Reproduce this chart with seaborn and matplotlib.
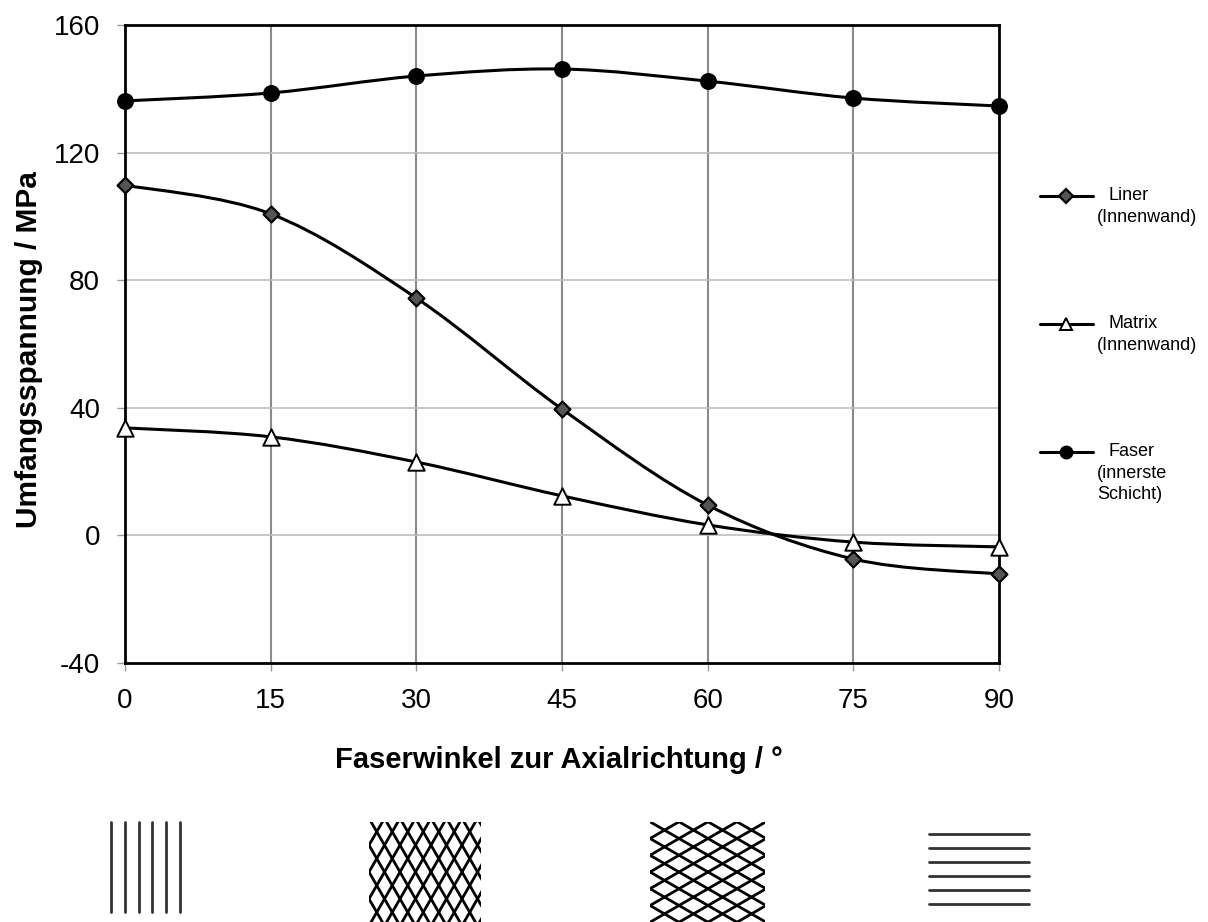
import numpy as np
import pandas as pd
import matplotlib
matplotlib.use("Agg")
import matplotlib.pyplot as plt
from matplotlib.path import Path
from matplotlib.patches import PathPatch, Rectangle
from matplotlib.lines import Line2D
import seaborn as sns

# ---- data ----
angles = [0, 15, 30, 45, 60, 75, 90]
liner = [109.8, 100.8, 74.4, 39.6, 9.5, -7.4, -12.1]
matrix = [33.7, 30.9, 23.0, 12.4, 3.3, -2.1, -3.6]
faser = [136.2, 138.7, 144.0, 146.2, 142.4, 137.1, 134.6]
series_names = ["Liner", "Matrix", "Faser"]
legend_sub = [["(Innenwand)"], ["(Innenwand)"], ["(innerste", "Schicht)"]]
yticks = [-40, 0, 40, 80, 120, 160]
xticks = [0, 15, 30, 45, 60, 75, 90]
xlabel = "Faserwinkel zur Axialrichtung / °"
ylabel = "Umfangsspannung / MPa"
pattern_angles = [0, 30, 60, 90]  # fibre angle sketches

sns.set_theme(style="white")
plt.rcParams['font.family'] = ['Liberation Sans', 'DejaVu Sans']
plt.rcParams['text.color'] = 'black'
plt.rcParams['xtick.labelcolor'] = 'black'
plt.rcParams['ytick.labelcolor'] = 'black'

W, H = 1208, 922
fig = plt.figure(figsize=(W / 100, H / 100), dpi=100)
ax = fig.add_axes([125 / W, 1 - 663 / H, (999 - 125) / W, (663 - 25) / H])

df = pd.DataFrame({"angle": angles * 3,
                   "value": liner + matrix + faser,
                   "series": np.repeat(series_names, len(angles))})

# smooth curves (Excel-like smoothed line via cubic Bezier)
def smooth_path(x, y):
    pts = np.column_stack([x, y]).astype(float)
    n = len(pts)
    verts = [pts[0]]
    codes = [Path.MOVETO]
    for i in range(n - 1):
        p0 = pts[max(i - 1, 0)]
        p1 = pts[i]
        p2 = pts[i + 1]
        p3 = pts[min(i + 2, n - 1)]
        c1 = p1 + (p2 - p0) / 6
        c2 = p2 - (p3 - p1) / 6
        verts += [c1, c2, p2]
        codes += [Path.CURVE4] * 3
    return Path(verts, codes)

styles = {
    "Liner": dict(marker="D", s=65, facecolor="#555555", edgecolor="black", lw=1.6, ms=7),
    "Matrix": dict(marker="^", s=140, facecolor="white", edgecolor="black", lw=1.4, ms=8),
    "Faser": dict(marker="o", s=125, facecolor="black", edgecolor="black", lw=1, ms=9),
}

# grid
for v in [15, 30, 45, 60, 75]:
    ax.axvline(v, color="#8a8a8a", lw=1.5, zorder=1)
for v in [0, 40, 80, 120]:
    ax.axhline(v, color="#bdbdbd", lw=1.2, zorder=1)

for name in series_names:
    sub = df[df.series == name]
    ax.add_patch(PathPatch(smooth_path(sub.angle.values, sub.value.values),
                           facecolor="none", edgecolor="black", lw=2.2, zorder=3,
                           clip_on=False))
    st = styles[name]
    sns.scatterplot(data=sub, x="angle", y="value", ax=ax, marker=st["marker"],
                    s=st["s"], color=st["facecolor"], edgecolor=st["edgecolor"],
                    linewidth=st["lw"], zorder=4, clip_on=False, legend=False)

ax.set_xlim(0, 90)
ax.set_ylim(-40, 160)
ax.set_xticks(xticks)
ax.set_yticks(yticks)
ax.set_xticklabels([str(t) for t in xticks], fontsize=20)
ax.set_yticklabels([str(t) for t in yticks], fontsize=20)
ax.tick_params(axis="both", direction="out", length=6, width=1, color="#9a9a9a",
               labelcolor="black", left=True, bottom=True)
ax.tick_params(axis="y", pad=12)
ax.tick_params(axis="x", pad=12)
ax.set_xlabel("")
ax.set_ylabel("")
for sp in ax.spines.values():
    sp.set_color("black")
    sp.set_linewidth(2)
    sp.set_visible(True)

fig.text(559 / W, 1 - 760 / H, xlabel, ha="center", va="center", fontsize=21,
         fontweight="bold", color="black")
fig.text(29 / W, 1 - 350 / H, ylabel, ha="center", va="center", fontsize=21.5,
         fontweight="bold", rotation=90, color="black")

# legend (manual)
leg_y = [196, 324, 452]
for name, sub_lines, yy in zip(series_names, legend_sub, leg_y):
    st = styles[name]
    fig.add_artist(Line2D([1040 / W, 1093 / W], [1 - yy / H, 1 - yy / H],
                          color="black", lw=2.2, transform=fig.transFigure))
    fig.add_artist(Line2D([1066 / W], [1 - yy / H], marker=st["marker"],
                          markersize=st["ms"], markerfacecolor=st["facecolor"],
                          markeredgecolor="black", markeredgewidth=st["lw"],
                          transform=fig.transFigure, linestyle="none"))
    fig.text(1108 / W, 1 - yy / H, name, ha="left", va="center", fontsize=13,
             color="black")
    for j, line in enumerate(sub_lines):
        fig.text(1097 / W, 1 - (yy + 21 * (j + 1)) / H, line, ha="left",
                 va="center", fontsize=13, color="black")

# fibre-angle sketches
pax = fig.add_axes([0, 0, 1, 1], zorder=-1)
pax.set_xlim(0, W)
pax.set_ylim(H, 0)
pax.axis("off")
boxes = [(109, 822, 73, 90), (369, 822, 112, 100), (650, 822, 115, 100), (929, 830, 100, 78)]
for ang, (bx, by, bw, bh) in zip(pattern_angles, boxes):
    clip = Rectangle((bx, by), bw, bh, transform=pax.transData)
    if ang == 0:
        for k in range(6):
            xx = bx + 2 + k * 13.8
            pax.plot([xx, xx], [by, by + bh], color="#333333", lw=2)
    elif ang == 90:
        for k in range(6):
            yy = by + 4 + k * 14
            pax.plot([bx, bx + bw], [yy, yy], color="#333333", lw=2)
    else:
        a = np.deg2rad(ang)
        spacing = 15.5 if ang == 30 else 29
        L = 400
        for sgn in (1, -1):
            for k in range(-20, 20):
                x0 = bx + k * spacing
                y0 = by + bh / 2
                dx = np.sin(a) * L * sgn
                dy = np.cos(a) * L
                ln, = pax.plot([x0 - dx, x0 + dx], [y0 - dy, y0 + dy], color="black", lw=2)
                ln.set_clip_path(clip)

fig.savefig("out.png", dpi=100)
